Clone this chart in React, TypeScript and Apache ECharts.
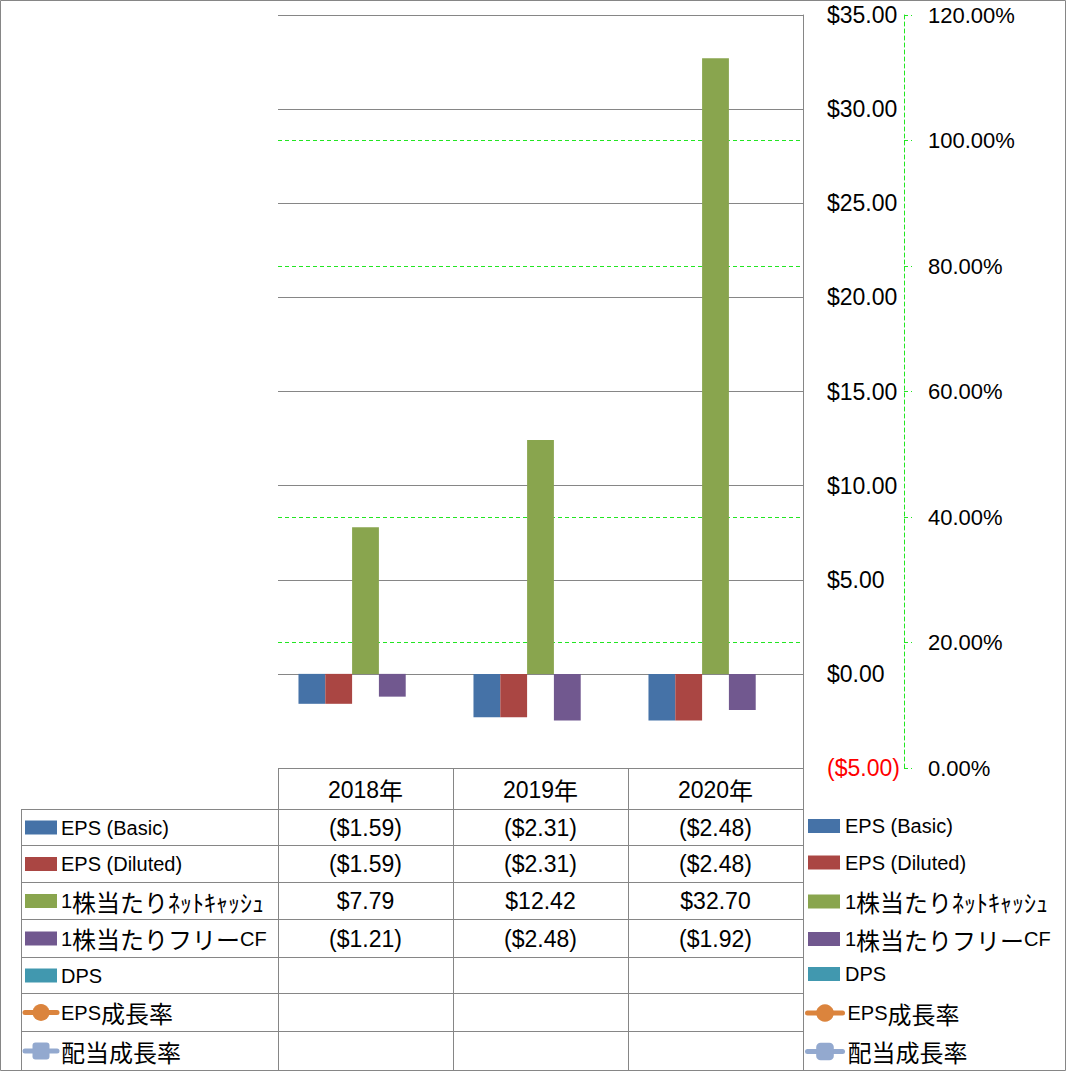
import React, { useEffect, useRef } from "react";
import * as echarts from "echarts";

// ---- data ----
const categories = ["2018年", "2019年", "2020年"];
const seriesNames = [
  "EPS (Basic)",
  "EPS (Diluted)",
  "1株当たりﾈｯﾄｷｬｯｼｭ",
  "1株当たりフリーCF",
  "DPS",
  "EPS成長率",
  "配当成長率",
];
const epsBasic: (number | null)[] = [-1.59, -2.31, -2.48];
const epsDiluted: (number | null)[] = [-1.59, -2.31, -2.48];
const netCashPerShare: (number | null)[] = [7.79, 12.42, 32.7];
const freeCfPerShare: (number | null)[] = [-1.21, -2.48, -1.92];
const dps: (number | null)[] = [null, null, null];
const epsGrowth: (number | null)[] = [null, null, null];
const dividendGrowth: (number | null)[] = [null, null, null];
const barData = [epsBasic, epsDiluted, netCashPerShare, freeCfPerShare, dps];
const lineData = [epsGrowth, dividendGrowth];

// ---- styles ----
const colors = ["#4572A7", "#AA4643", "#89A54E", "#71588F", "#4198AF", "#DB843D", "#93A9CF"];
const LATIN = "'Liberation Sans', Arial, sans-serif";
const CJK = "'Noto Sans CJK JP', 'Liberation Sans', sans-serif";
const GREY = "#868686";
const GREEN = "#22E622";

const richStyles = {
  a: { fontFamily: LATIN, fontSize: 20, color: "#000", lineHeight: 24 },
  d: { fontFamily: LATIN, fontSize: 23, color: "#000", lineHeight: 24 },
  j: { fontFamily: CJK, fontSize: 24, color: "#000", lineHeight: 24 },
};
const toRich = (s: string, latinKey = "a") =>
  s.replace(/[\x00-\x7F]+|[^\x00-\x7F]+/g, (m) =>
    /^[\x00-\x7F]/.test(m) ? `{${latinKey}|${m}}` : `{j|${m}}`
  );
const money = (v: number | null) =>
  v == null ? "" : v < 0 ? `($${Math.abs(v).toFixed(2)})` : `$${v.toFixed(2)}`;

export default function App() {
  const ref = useRef<HTMLDivElement>(null);
  useEffect(() => {
    document.body.style.margin = "0";
    const chart = echarts.init(ref.current!, null, { renderer: "svg" });

    const rowLines = [809, 845, 882, 919, 957, 993, 1031, 1070];
    const rowCenter = (r: number) => (rowLines[r] + rowLines[r + 1]) / 2 + 0.5;

    const series: any[] = [];
    barData.forEach((d, i) => {
      series.push({
        name: seriesNames[i],
        type: "bar",
        yAxisIndex: 1,
        data: d,
        barGap: "0%",
        barCategoryGap: "23.4%",
        itemStyle: { color: colors[i] },
      });
    });
    lineData.forEach((d, k) => {
      const i = 5 + k;
      series.push({
        name: seriesNames[i],
        type: "line",
        yAxisIndex: 0,
        data: d,
        symbol: k === 0 ? "circle" : "roundRect",
        symbolSize: 16,
        lineStyle: { width: 5, color: colors[i], cap: "round" },
        itemStyle: { color: colors[i] },
      });
    });

    const legends = seriesNames.map((n, i) => {
      const isBar = i < 5;
      return {
        orient: "vertical",
        left: isBar ? 808 : 805,
        top: rowCenter(i) + 0.5 - 12,
        padding: 0,
        selectedMode: false,
        itemWidth: isBar ? 32 : 35,
        itemHeight: isBar ? 14 : 22,
        data: [isBar ? { name: n, icon: "rect" } : { name: n }],
        formatter: (s: string) => toRich(s),
        textStyle: { rich: richStyles },
        lineStyle: { width: 5, cap: "round" },
      };
    });

    const option: any = {
      animation: false,
      textStyle: { fontFamily: LATIN },
      grid: { left: 278, right: 263, top: 15, bottom: 303, containLabel: false },
      legend: legends,
      xAxis: {
        type: "category",
        data: categories,
        axisLine: { show: false },
        axisTick: { show: false },
        axisLabel: { show: false },
        splitLine: { show: false },
      },
      yAxis: [
        {
          type: "value",
          position: "right",
          offset: 101,
          min: 0,
          max: 1.2,
          interval: 0.2,
          axisLine: { show: true, lineStyle: { color: GREEN, type: [4, 3], width: 1 } },
          axisTick: { show: true, length: 8, lineStyle: { color: GREEN, type: [4, 3] } },
          axisLabel: {
            margin: 24,
            align: "left",
            fontSize: 22,
            fontFamily: LATIN,
            color: "#000",
            formatter: (v: number) => `${(v * 100).toFixed(2)}%`,
          },
          splitLine: { show: true, lineStyle: { color: GREEN, type: [4, 3], width: 1 } },
        },
        {
          type: "value",
          position: "right",
          min: -5,
          max: 35,
          interval: 5,
          axisLine: { show: true, onZero: false, lineStyle: { color: GREY, width: 1 } },
          axisTick: { show: false },
          axisLabel: {
            margin: 24,
            align: "left",
            fontSize: 23,
            fontFamily: LATIN,
            color: "#000",
            formatter: (v: number) => (v < 0 ? `{neg|${money(v)}}` : money(v)),
            rich: { neg: { color: "#FF0000", fontSize: 23, fontFamily: LATIN } },
          },
          splitLine: { show: true, lineStyle: { color: GREY, width: 1 } },
        },
      ],
      series,
    };
    chart.setOption(option);

    // ---- data table drawn beneath the plot ----
    const gridLeft = 278;
    const gridRight = 803;
    const tableTop = 768;
    const keyLeft = 21;
    const step = (gridRight - gridLeft) / categories.length;
    const colCenters = categories.map(
      (c) => chart.convertToPixel({ xAxisIndex: 0 }, c) as number
    );
    const g: any[] = [];
    const line = (x1: number, y1: number, x2: number, y2: number) =>
      g.push({
        type: "line",
        silent: true,
        shape: { x1, y1, x2, y2 },
        style: { stroke: GREY, lineWidth: 1 },
      });
    g.push({
      type: "rect",
      silent: true,
      shape: { x: 0.5, y: 0.5, width: 1065, height: 1070 },
      style: { fill: "none", stroke: GREY, lineWidth: 1 },
    });
    line(gridLeft, tableTop + 0.5, gridRight, tableTop + 0.5);
    rowLines.forEach((y) => line(keyLeft, y + 0.5, gridRight, y + 0.5));
    for (let c = 0; c <= categories.length; c++) {
      const x = Math.round(gridLeft + c * step) + 0.5;
      line(x, tableTop, x, 1071);
    }
    line(keyLeft + 0.5, rowLines[0], keyLeft + 0.5, 1071);
    categories.forEach((c, i) => {
      g.push({
        type: "text",
        silent: true,
        x: colCenters[i],
        y: (tableTop + rowLines[0]) / 2 + 1,
        style: { text: toRich(c, "d"), rich: richStyles, align: "center", verticalAlign: "middle" },
      });
    });
    const allData = [...barData, ...lineData];
    seriesNames.forEach((n, r) => {
      const cy = rowCenter(r);
      if (r < 5) {
        g.push({
          type: "rect",
          silent: true,
          shape: { x: 25, y: cy - 7, width: 32, height: 14 },
          style: { fill: colors[r] },
        });
      } else {
        g.push({
          type: "line",
          silent: true,
          shape: { x1: 25, y1: cy, x2: 57, y2: cy },
          style: { stroke: colors[r], lineWidth: 5, lineCap: "round" },
        });
        if (r === 5) {
          g.push({
            type: "circle",
            silent: true,
            shape: { cx: 41, cy, r: 8.5 },
            style: { fill: colors[r] },
          });
        } else {
          g.push({
            type: "rect",
            silent: true,
            shape: { x: 32.5, y: cy - 8.5, width: 17, height: 17, r: 3 },
            style: { fill: colors[r] },
          });
        }
      }
      g.push({
        type: "text",
        silent: true,
        x: 61,
        y: cy,
        style: { text: toRich(n), rich: richStyles, align: "left", verticalAlign: "middle" },
      });
      allData[r].forEach((v, i) => {
        if (v == null) return;
        g.push({
          type: "text",
          silent: true,
          x: colCenters[i],
          y: cy,
          style: {
            text: money(v),
            fontFamily: LATIN,
            fontSize: 23,
            fill: "#000",
            align: "center",
            verticalAlign: "middle",
          },
        });
      });
    });
    chart.setOption({ graphic: g });
    return () => chart.dispose();
  }, []);
  return <div ref={ref} style={{ width: 1066, height: 1071 }} />;
}
